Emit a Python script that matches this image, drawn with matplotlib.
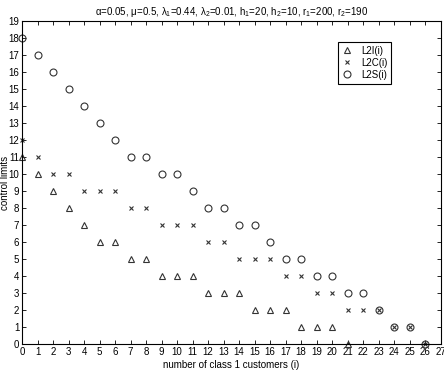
import matplotlib
matplotlib.use("Agg")
import matplotlib.pyplot as plt

plt.rcParams['font.family'] = ['Liberation Sans', 'DejaVu Sans']
plt.rcParams['mathtext.fontset'] = 'custom'
plt.rcParams['mathtext.rm'] = 'Liberation Sans'
plt.rcParams['mathtext.it'] = 'Liberation Sans'
plt.rcParams['font.size'] = 7

i_L2I = list(range(0, 22))
L2I = [11, 10, 9, 8, 7, 6, 6, 5, 5, 4, 4, 4, 3, 3, 3, 2, 2, 2, 1, 1, 1, 0]
i_L2C = list(range(0, 27))
L2C = [12, 11, 10, 10, 9, 9, 9, 8, 8, 7, 7, 7, 6, 6, 5, 5, 5, 4, 4, 3, 3, 2, 2, 2, 1, 1, 0]
i_L2S = list(range(0, 27))
L2S = [18, 17, 16, 15, 14, 13, 12, 11, 11, 10, 10, 9, 8, 8, 7, 7, 6, 5, 5, 4, 4, 3, 3, 2, 1, 1, 0]

xticks = list(range(0, 28))
yticks = list(range(0, 20))

fig = plt.figure(figsize=(4.44, 3.76), dpi=100)
ax = fig.add_axes([22/444, 1-344/376, (440.5-22)/444, (344-21)/376])

col = '#333333'
ax.plot(i_L2I, L2I, linestyle='none', marker='^', markersize=5, markerfacecolor='none',
        markeredgecolor=col, markeredgewidth=0.8, label='L2I(i)', clip_on=False)
ax.plot(i_L2C, L2C, linestyle='none', marker='x', markersize=3.3,
        color=col, markeredgewidth=0.8, label='L2C(i)', clip_on=False)
ax.plot(i_L2S, L2S, linestyle='none', marker='o', markersize=5, markerfacecolor='none',
        markeredgecolor=col, markeredgewidth=0.8, label='L2S(i)', clip_on=False)

ax.set_xlim(0, 27)
ax.set_ylim(0, 19)
ax.set_xticks(xticks)
ax.set_yticks(yticks)
ax.tick_params(direction='in', top=True, right=True, length=3, width=0.6, pad=2, labelsize=7)
for s in ax.spines.values():
    s.set_linewidth(0.8)

ax.set_xlabel('number of class 1 customers (i)', fontsize=7, labelpad=2)
ax.set_ylabel('control limits', fontsize=7, labelpad=-1)
ax.set_title(r'α=0.05, μ=0.5, λ$_1$=0.44, λ$_2$=0.01, h$_1$=20, h$_2$=10, r$_1$=200, r$_2$=190',
             fontsize=7, pad=4)

leg = ax.legend(loc='upper right', fancybox=False, edgecolor='black', framealpha=1,
                fontsize=7, handlelength=1.2, handletextpad=0.8, borderpad=0.4, labelspacing=0.2)
leg.get_frame().set_linewidth(0.8)
leg.set_bbox_to_anchor(((396-22)/(440.5-22), 1 - (37-21)/323), transform=ax.transAxes)

fig.savefig('out.png', dpi=100)
